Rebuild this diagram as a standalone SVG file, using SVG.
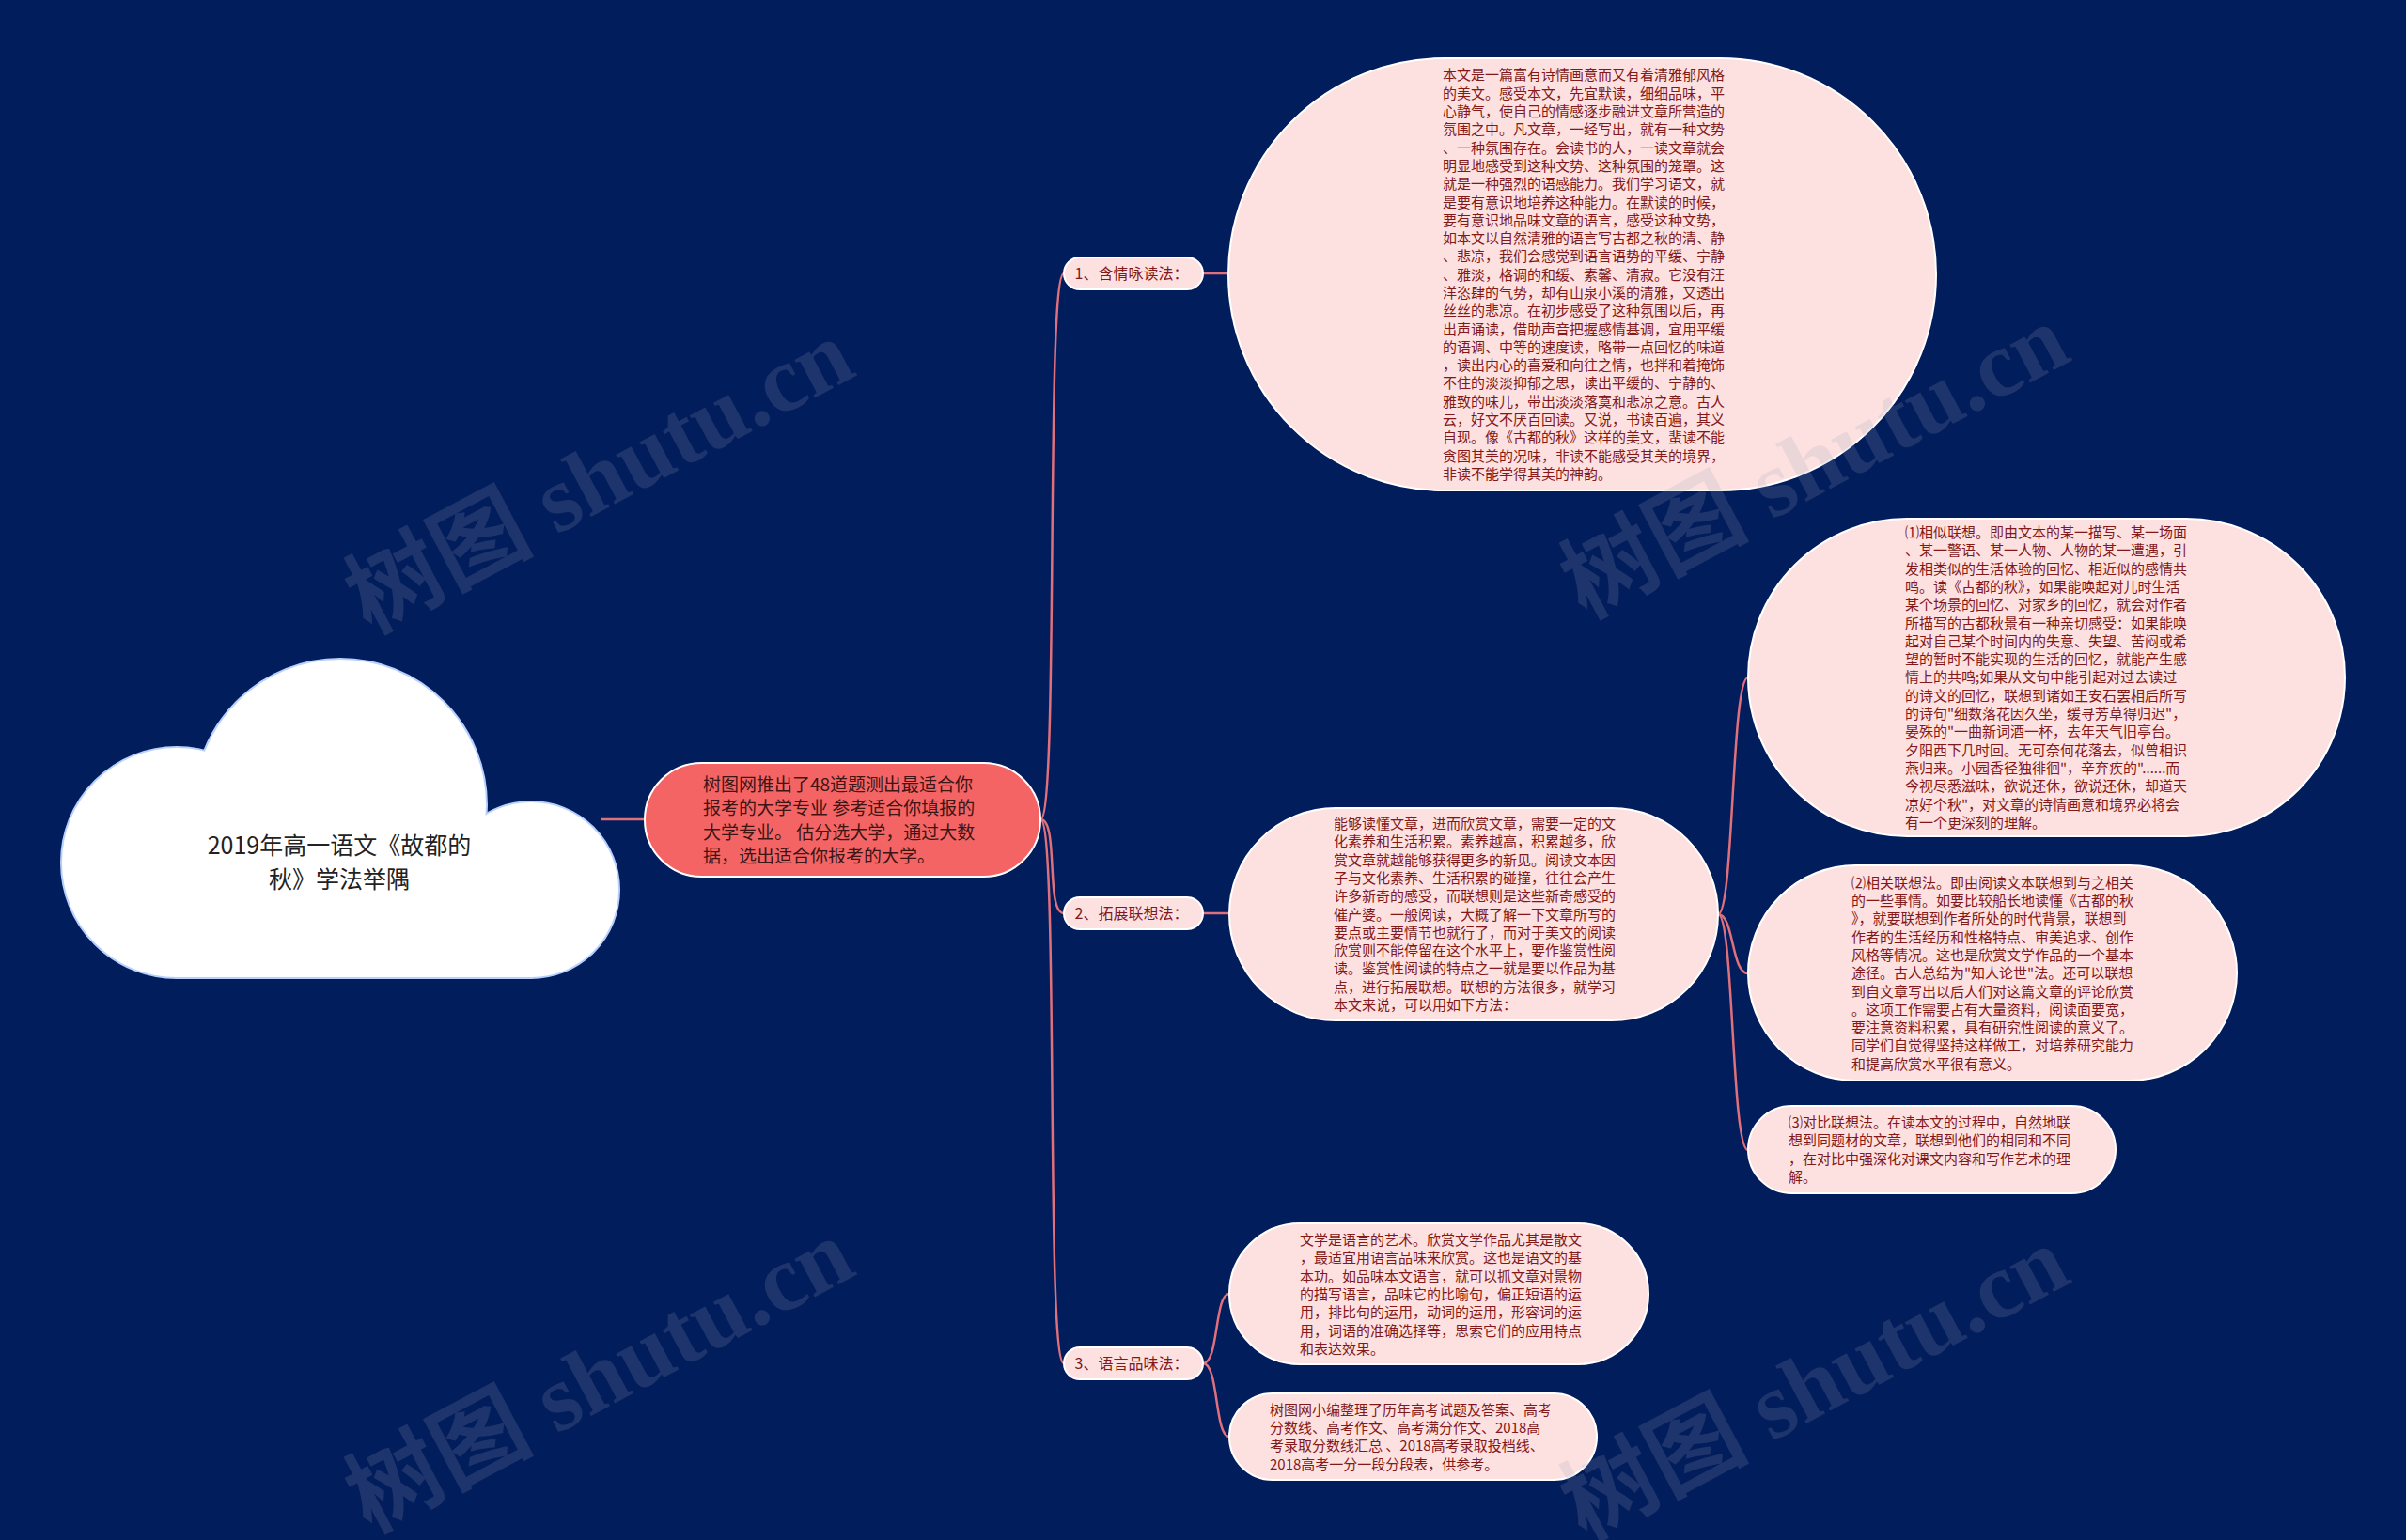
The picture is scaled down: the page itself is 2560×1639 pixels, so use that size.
<svg xmlns="http://www.w3.org/2000/svg" width="2560" height="1639" viewBox="0 0 2560 1639">
<defs>
<style>
.bg{fill:#021d5c}
.conn{fill:none;stroke:#e0707c;stroke-width:2.5}
.pill{fill:#fde1e1;stroke:#ffffff;stroke-width:2}
.center{fill:#f46464;stroke:#ffffff;stroke-width:2}
.cloud{fill:#ffffff}
.cloudedge{fill:none;stroke:#b9d0ff;stroke-width:4}
.t15{font-family:"Noto Sans CJK SC","Noto Sans",sans-serif;font-size:15px;fill:#821818}
.lbl{font-family:"Noto Sans CJK SC","Noto Sans",sans-serif;font-size:16px;fill:#821818;text-anchor:middle}
.ct{font-family:"Noto Sans CJK SC","Noto Sans",sans-serif;font-size:19px;fill:#3d1515}
.rt{font-family:"Noto Sans CJK SC","Noto Sans",sans-serif;font-size:25px;fill:#222222;text-anchor:middle}
.wm{font-family:"Liberation Serif","Noto Sans CJK SC",serif;font-weight:bold;font-size:100px;fill:#9aa0b5;opacity:0.18;text-anchor:middle}
</style>
</defs>
<rect class="bg" x="0" y="0" width="2560" height="1639"/>

<g id="connectors">
<path class="conn" d="M640 872 L686 872"/>
<path class="conn" d="M1107 872 C1127 872 1112 291 1132 291"/>
<path class="conn" d="M1107 872 C1127 872 1112 972 1132 972"/>
<path class="conn" d="M1107 872 C1127 872 1112 1451 1132 1451"/>
<path class="conn" d="M1280 291 L1308 291"/>
<path class="conn" d="M1280 972 L1308 972"/>
<path class="conn" d="M1828 973 C1845 973 1842 721 1860 721"/>
<path class="conn" d="M1828 973 C1845 973 1842 1036 1860 1036"/>
<path class="conn" d="M1828 973 C1845 973 1842 1224 1860 1224"/>
<path class="conn" d="M1280 1451 C1297 1451 1292 1377 1308 1377"/>
<path class="conn" d="M1280 1451 C1297 1451 1292 1529 1308 1529"/>
</g>

<g id="root">
<g class="cloudedge">
<circle cx="188" cy="918" r="122"/>
<circle cx="362" cy="857" r="155"/>
<circle cx="565" cy="947" r="93"/>
<rect x="188" y="940" width="377" height="100"/>
</g>
<g class="cloud">
<circle cx="188" cy="918" r="122"/>
<circle cx="362" cy="857" r="155"/>
<circle cx="565" cy="947" r="93"/>
<rect x="188" y="900" width="377" height="140"/>
</g>
<text class="rt"><tspan x="361" y="909">2019年高一语文《故都的</tspan><tspan x="361" y="945">秋》学法举隅</tspan></text>
</g>

<g id="center">
<rect class="center" x="686" y="812" width="421" height="121" rx="60.5"/>
<text class="ct"><tspan x="748" y="841.5">树图网推出了48道题测出最适合你</tspan><tspan x="748" dy="25.5">报考的大学专业 参考适合你填报的</tspan><tspan x="748" dy="25.5">大学专业。 估分选大学，通过大数</tspan><tspan x="748" dy="25.5">据，选出适合你报考的大学。</tspan></text>
</g>

<g id="label1">
<rect class="pill" x="1132" y="274" width="148" height="34" rx="17"/>
<text class="lbl" x="1204" y="297">1、含情咏读法：</text>
</g>
<g id="label2">
<rect class="pill" x="1132" y="955" width="148" height="34" rx="17"/>
<text class="lbl" x="1204" y="978">2、拓展联想法：</text>
</g>
<g id="label3">
<rect class="pill" x="1132" y="1434" width="148" height="34" rx="17"/>
<text class="lbl" x="1204" y="1457">3、语言品味法：</text>
</g>

<g id="node-read">
<rect class="pill" x="1307" y="62" width="753" height="460" rx="230"/>
<text class="t15"><tspan x="1535" y="85.4">本文是一篇富有诗情画意而又有着清雅郁风格</tspan><tspan x="1535" dy="19.3">的美文。感受本文，先宜默读，细细品味，平</tspan><tspan x="1535" dy="19.3">心静气，使自己的情感逐步融进文章所营造的</tspan><tspan x="1535" dy="19.3">氛围之中。凡文章，一经写出，就有一种文势</tspan><tspan x="1535" dy="19.3">、一种氛围存在。会读书的人，一读文章就会</tspan><tspan x="1535" dy="19.3">明显地感受到这种文势、这种氛围的笼罩。这</tspan><tspan x="1535" dy="19.3">就是一种强烈的语感能力。我们学习语文，就</tspan><tspan x="1535" dy="19.3">是要有意识地培养这种能力。在默读的时候，</tspan><tspan x="1535" dy="19.3">要有意识地品味文章的语言，感受这种文势，</tspan><tspan x="1535" dy="19.3">如本文以自然清雅的语言写古都之秋的清、静</tspan><tspan x="1535" dy="19.3">、悲凉，我们会感觉到语言语势的平缓、宁静</tspan><tspan x="1535" dy="19.3">、雅淡，格调的和缓、素馨、清寂。它没有汪</tspan><tspan x="1535" dy="19.3">洋恣肆的气势，却有山泉小溪的清雅，又透出</tspan><tspan x="1535" dy="19.3">丝丝的悲凉。在初步感受了这种氛围以后，再</tspan><tspan x="1535" dy="19.3">出声诵读，借助声音把握感情基调，宜用平缓</tspan><tspan x="1535" dy="19.3">的语调、中等的速度读，略带一点回忆的味道</tspan><tspan x="1535" dy="19.3">，读出内心的喜爱和向往之情，也拌和着掩饰</tspan><tspan x="1535" dy="19.3">不住的淡淡抑郁之思，读出平缓的、宁静的、</tspan><tspan x="1535" dy="19.3">雅致的味儿，带出淡淡落寞和悲凉之意。古人</tspan><tspan x="1535" dy="19.3">云，好文不厌百回读。又说，书读百遍，其义</tspan><tspan x="1535" dy="19.3">自现。像《古都的秋》这样的美文，蜚读不能</tspan><tspan x="1535" dy="19.3">贪图其美的况味，非读不能感受其美的境界，</tspan><tspan x="1535" dy="19.3">非读不能学得其美的神韵。</tspan></text>
</g>

<g id="node-assoc">
<rect class="pill" x="1308" y="860" width="520" height="226" rx="113"/>
<text class="t15"><tspan x="1419" y="882">能够读懂文章，进而欣赏文章，需要一定的文</tspan><tspan x="1419" dy="19.3">化素养和生活积累。素养越高，积累越多，欣</tspan><tspan x="1419" dy="19.3">赏文章就越能够获得更多的新见。阅读文本因</tspan><tspan x="1419" dy="19.3">子与文化素养、生活积累的碰撞，往往会产生</tspan><tspan x="1419" dy="19.3">许多新奇的感受，而联想则是这些新奇感受的</tspan><tspan x="1419" dy="19.3">催产婆。一般阅读，大概了解一下文章所写的</tspan><tspan x="1419" dy="19.3">要点或主要情节也就行了，而对于美文的阅读</tspan><tspan x="1419" dy="19.3">欣赏则不能停留在这个水平上，要作鉴赏性阅</tspan><tspan x="1419" dy="19.3">读。鉴赏性阅读的特点之一就是要以作品为基</tspan><tspan x="1419" dy="19.3">点，进行拓展联想。联想的方法很多，就学习</tspan><tspan x="1419" dy="19.3">本文来说，可以用如下方法：</tspan></text>
</g>

<g id="node-similar">
<rect class="pill" x="1860" y="552" width="635" height="338" rx="169"/>
<text class="t15"><tspan x="2027" y="572">⑴相似联想。即由文本的某一描写、某一场面</tspan><tspan x="2027" dy="19.3">、某一警语、某一人物、人物的某一遭遇，引</tspan><tspan x="2027" dy="19.3">发相类似的生活体验的回忆、相近似的感情共</tspan><tspan x="2027" dy="19.3">鸣。读《古都的秋》，如果能唤起对儿时生活</tspan><tspan x="2027" dy="19.3">某个场景的回忆、对家乡的回忆，就会对作者</tspan><tspan x="2027" dy="19.3">所描写的古都秋景有一种亲切感受：如果能唤</tspan><tspan x="2027" dy="19.3">起对自己某个时间内的失意、失望、苦闷或希</tspan><tspan x="2027" dy="19.3">望的暂时不能实现的生活的回忆，就能产生感</tspan><tspan x="2027" dy="19.3">情上的共鸣;如果从文句中能引起对过去读过</tspan><tspan x="2027" dy="19.3">的诗文的回忆，联想到诸如王安石罢相后所写</tspan><tspan x="2027" dy="19.3">的诗句"细数落花因久坐，缓寻芳草得归迟"，</tspan><tspan x="2027" dy="19.3">晏殊的"一曲新词酒一杯，去年天气旧亭台。</tspan><tspan x="2027" dy="19.3">夕阳西下几时回。无可奈何花落去，似曾相识</tspan><tspan x="2027" dy="19.3">燕归来。小园香径独徘徊"，辛弃疾的"......而</tspan><tspan x="2027" dy="19.3">今视尽悉滋味，欲说还休，欲说还休，却道天</tspan><tspan x="2027" dy="19.3">凉好个秋"，对文章的诗情画意和境界必将会</tspan><tspan x="2027" dy="19.3">有一个更深刻的理解。</tspan></text>
</g>

<g id="node-related">
<rect class="pill" x="1860" y="921" width="520" height="229" rx="114.5"/>
<text class="t15"><tspan x="1970" y="944.7">⑵相关联想法。即由阅读文本联想到与之相关</tspan><tspan x="1970" dy="19.3">的一些事情。如要比较船长地读懂《古都的秋</tspan><tspan x="1970" dy="19.3">》，就要联想到作者所处的时代背景，联想到</tspan><tspan x="1970" dy="19.3">作者的生活经历和性格特点、审美追求、创作</tspan><tspan x="1970" dy="19.3">风格等情况。这也是欣赏文学作品的一个基本</tspan><tspan x="1970" dy="19.3">途径。古人总结为"知人论世"法。还可以联想</tspan><tspan x="1970" dy="19.3">到自文章写出以后人们对这篇文章的评论欣赏</tspan><tspan x="1970" dy="19.3">。这项工作需要占有大量资料，阅读面要宽，</tspan><tspan x="1970" dy="19.3">要注意资料积累，具有研究性阅读的意义了。</tspan><tspan x="1970" dy="19.3">同学们自觉得坚持这样做工，对培养研究能力</tspan><tspan x="1970" dy="19.3">和提高欣赏水平很有意义。</tspan></text>
</g>

<g id="node-contrast">
<rect class="pill" x="1860" y="1177" width="391" height="93" rx="46.5"/>
<text class="t15"><tspan x="1903" y="1200">⑶对比联想法。在读本文的过程中，自然地联</tspan><tspan x="1903" dy="19.3">想到同题材的文章，联想到他们的相同和不同</tspan><tspan x="1903" dy="19.3">，在对比中强深化对课文内容和写作艺术的理</tspan><tspan x="1903" dy="19.3">解。</tspan></text>
</g>

<g id="node-language">
<rect class="pill" x="1308" y="1302" width="446" height="150" rx="75"/>
<text class="t15"><tspan x="1383" y="1325">文学是语言的艺术。欣赏文学作品尤其是散文</tspan><tspan x="1383" dy="19.3">，最适宜用语言品味来欣赏。这也是语文的基</tspan><tspan x="1383" dy="19.3">本功。如品味本文语言，就可以抓文章对景物</tspan><tspan x="1383" dy="19.3">的描写语言，品味它的比喻句，偏正短语的运</tspan><tspan x="1383" dy="19.3">用，排比句的运用，动词的运用，形容词的运</tspan><tspan x="1383" dy="19.3">用，词语的准确选择等，思索它们的应用特点</tspan><tspan x="1383" dy="19.3">和表达效果。</tspan></text>
</g>

<g id="node-note">
<rect class="pill" x="1308" y="1483" width="391" height="92" rx="46"/>
<text class="t15"><tspan x="1351" y="1505.7">树图网小编整理了历年高考试题及答案、高考</tspan><tspan x="1351" dy="19.3">分数线、高考作文、高考满分作文、2018高</tspan><tspan x="1351" dy="19.3">考录取分数线汇总 、2018高考录取投档线、</tspan><tspan x="1351" dy="19.3">2018高考一分一段分段表，供参考。</tspan></text>
</g>

<g id="watermark">
<text class="wm" x="637" y="541" transform="rotate(-28 637 506)">树图 shutu.cn</text>
<text class="wm" x="1930" y="525" transform="rotate(-28 1930 490)">树图 shutu.cn</text>
<text class="wm" x="637" y="1498" transform="rotate(-28 637 1463)">树图 shutu.cn</text>
<text class="wm" x="1930" y="1506" transform="rotate(-28 1930 1471)">树图 shutu.cn</text>
</g>
</svg>
